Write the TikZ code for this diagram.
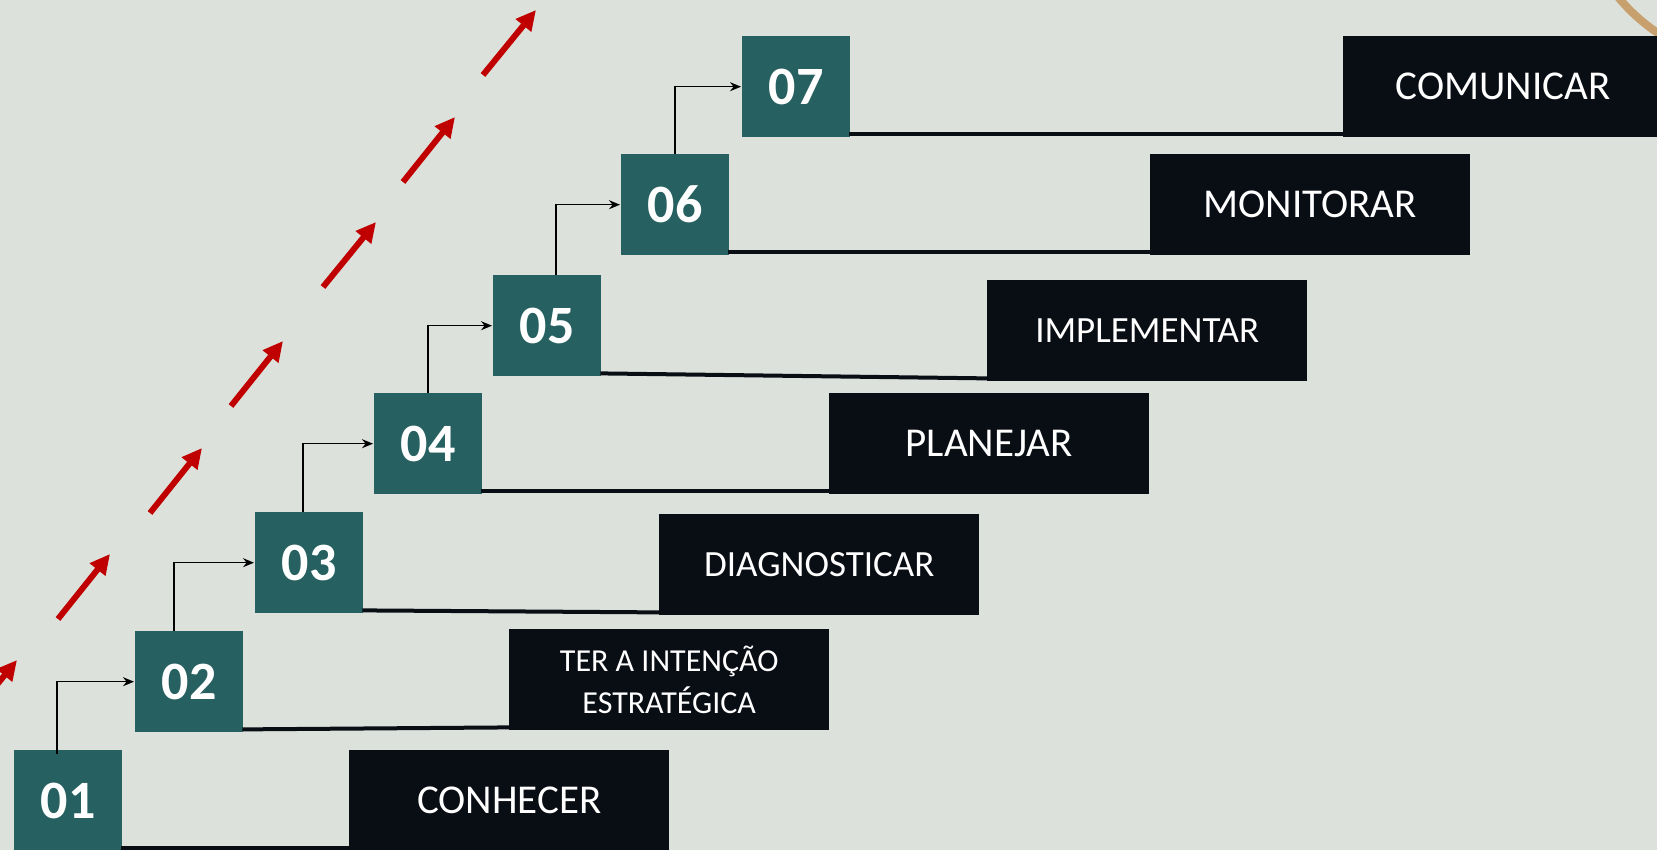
\documentclass[tikz,border=0pt]{standalone}
\usepackage{fontspec}
\setmainfont{Carlito}
\usetikzlibrary{arrows.meta,calc}
\definecolor{bgc}{RGB}{220,226,219}
\definecolor{teal1}{RGB}{39,96,96}
\definecolor{dark1}{RGB}{9,13,20}
\definecolor{red1}{RGB}{192,0,0}
\definecolor{tan1}{RGB}{200,160,110}
\tikzset{
  numbox/.style={fill=teal1, text=white, minimum width=108pt, minimum height=101pt, anchor=north west, inner sep=0pt, font=\fontsize{54}{60}\selectfont\bfseries},
  labbox/.style={fill=dark1, text=white, minimum width=320pt, minimum height=101pt, anchor=north west, inner sep=0pt, align=center, font=\fontsize{41}{48}\selectfont},
  midfont/.style={font=\fontsize{37}{44}\selectfont},
  smallfont/.style={font=\fontsize{32}{42}\selectfont},
  baseline/.style={line width=4pt, draw=dark1},
  stepconn/.style={line width=1.4pt, -{Stealth[length=11pt,width=9pt]}, shorten >=1pt},
  redarrow/.style={line width=6pt, red1, -{Triangle[length=20pt,width=19pt]}}
}
\begin{document}
\begin{tikzpicture}[x=1pt,y=-1pt]
\useasboundingbox (0,0) rectangle (1657,850);
\clip (0,0) rectangle (1657,850);
\fill[bgc] (0,0) rectangle (1657,850);
% tan arc top-right
\draw[tan1, line width=8pt] (1760,-120) ++(215:184) arc[start angle=215, end angle=120, radius=184];
% red arrows
\coordinate (t0) at (-36,725); \coordinate (h0) at (17,660);
\coordinate (t1) at (58,619);  \coordinate (h1) at (110,554);
\coordinate (t2) at (150,513); \coordinate (h2) at (202,448);
\coordinate (t3) at (231,406); \coordinate (h3) at (283,341);
\coordinate (t4) at (323,287); \coordinate (h4) at (376,222);
\coordinate (t5) at (403,182); \coordinate (h5) at (455,117);
\coordinate (t6) at (483,75);  \coordinate (h6) at (536,10);
\foreach \i in {0,...,6} { \draw[redarrow] (t\i) -- (h\i); }
% number boxes
\node[numbox] (g1) at (14,750) {01};
\node[numbox] (g2) at (135,631) {02};
\node[numbox] (g3) at (255,512) {03};
\node[numbox] (g4) at (374,393) {04};
\node[numbox] (g5) at (493,275) {05};
\node[numbox] (g6) at (621,154) {06};
\node[numbox] (g7) at (742,36) {07};
% label boxes
\node[labbox] (b1) at (349,750) {CONHECER};
\node[labbox, smallfont] (b2) at (509,629) {TER A INTENÇÃO\\ESTRATÉGICA};
\node[labbox, midfont] (b3) at (659,514) {DIAGNOSTICAR};
\node[labbox] (b4) at (829,393) {PLANEJAR};
\node[labbox, midfont] (b5) at (987,280) {IMPLEMENTAR};
\node[labbox] (b6) at (1150,154) {MONITORAR};
\node[labbox] (b7) at (1343,36) {COMUNICAR};
% base lines
\foreach \i in {1,...,7} {
  \draw[baseline] ($(g\i.south east)+(-1,-3)$) -- ($(b\i.south west)+(1,-3)$);
}
% step connectors
\draw[stepconn] ($(g1.north west)+(43,4)$) |- (g2.west);
\draw[stepconn] ($(g2.north west)+(39,0)$) |- (g3.west);
\draw[stepconn] ($(g3.north west)+(48,0)$) |- (g4.west);
\draw[stepconn] ($(g4.north west)+(54,0)$) |- (g5.west);
\draw[stepconn] ($(g5.north west)+(63,0)$) |- (g6.west);
\draw[stepconn] ($(g6.north west)+(54,0)$) |- (g7.west);
\end{tikzpicture}
\end{document}
